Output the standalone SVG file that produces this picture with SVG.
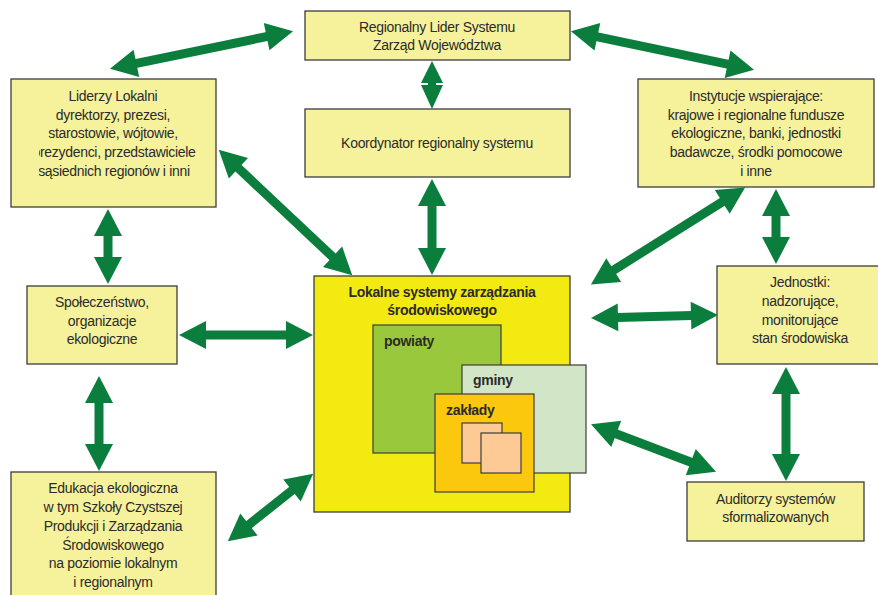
<svg xmlns="http://www.w3.org/2000/svg" width="878" height="595" viewBox="0 0 878 595">
<style>
.box{fill:#f6f29b;stroke:#3c3c3c;stroke-width:1.3}
.t{font-family:"Liberation Sans",Arial,sans-serif;font-size:14px;fill:#2b2b2b;text-anchor:middle;letter-spacing:-0.3px}
.b{font-family:"Liberation Sans",Arial,sans-serif;font-size:14px;font-weight:bold;fill:#2b2b2b;letter-spacing:-0.3px}
.arr{stroke:#0b7e3d;stroke-width:9;fill:none;marker-start:url(#hd);marker-end:url(#hd)}
.in{stroke:#3c3c3c;stroke-width:1.2}
</style>
<defs>
<marker id="hd" markerUnits="userSpaceOnUse" markerWidth="30" markerHeight="30" viewBox="0 -15 28 30" refX="1" refY="0" orient="auto-start-reverse" overflow="visible">
<path d="M0,-14 L27,0 L0,14 Z" fill="#0b7e3d"/>
</marker>
<clipPath id="clipLid"><rect x="39" y="79" width="178" height="130"/></clipPath>
</defs>

<g id="connectors">
<line class="arr" x1="135.4" y1="63.6" x2="267.6" y2="36.4"/>
<line class="arr" x1="596.4" y1="36.6" x2="728.6" y2="64.4"/>
<g fill="#0b7e3d">
<path d="M432,61 L443,83 L421,83 Z"/>
<rect x="428" y="82" width="8" height="4"/>
<path d="M432,109 L443,85 L421,85 Z"/>
</g>
<line class="arr" x1="432" y1="205" x2="432" y2="249"/>
<line class="arr" x1="237.7" y1="167.5" x2="333.3" y2="257.5"/>
<line class="arr" x1="108" y1="235" x2="108" y2="258"/>
<line class="arr" x1="205" y1="335" x2="287" y2="335"/>
<line class="arr" x1="99" y1="402" x2="99" y2="445"/>
<line class="arr" x1="248.2" y1="525.2" x2="292.8" y2="489.8"/>
<line class="arr" x1="612.9" y1="270.6" x2="723.1" y2="201.4"/>
<line class="arr" x1="776" y1="215" x2="776" y2="238"/>
<line class="arr" x1="617" y1="317.4" x2="692" y2="315.6"/>
<line class="arr" x1="786" y1="393" x2="786" y2="455"/>
<line class="arr" x1="615.3" y1="433.5" x2="691.7" y2="462.5"/>
</g>

<g id="regionalny">
<rect class="box" x="305" y="11" width="265" height="49"/>
<text class="t" x="437" y="32">Regionalny Lider Systemu</text>
<text class="t" x="437" y="50">Zarząd Województwa</text>
</g>

<g id="koordynator">
<rect class="box" x="305" y="109" width="265" height="68"/>
<text class="t" x="437" y="148">Koordynator regionalny systemu</text>
</g>

<g id="liderzy">
<rect class="box" x="11" y="79" width="205" height="128"/>
<g clip-path="url(#clipLid)">
<text class="t" x="113" y="101">Liderzy Lokalni</text>
<text class="t" x="113" y="119.5">dyrektorzy, prezesi,</text>
<text class="t" x="113" y="138">starostowie, wójtowie,</text>
<text class="t" x="114" y="157">prezydenci, przedstawiciele</text>
<text class="t" x="114" y="176">sąsiednich regionów i inni</text>
</g>
</g>

<g id="instytucje">
<rect class="box" x="638" y="79" width="236" height="108"/>
<text class="t" x="756" y="101">Instytucje wspierające:</text>
<text class="t" x="756" y="119.5">krajowe i regionalne fundusze</text>
<text class="t" x="756" y="138">ekologiczne, banki, jednostki</text>
<text class="t" x="756" y="157">badawcze, środki pomocowe</text>
<text class="t" x="756" y="176">i inne</text>
</g>

<g id="spoleczenstwo">
<rect class="box" x="27" y="286" width="150" height="78"/>
<text class="t" x="102" y="307">Społeczeństwo,</text>
<text class="t" x="102" y="326">organizacje</text>
<text class="t" x="102" y="344">ekologiczne</text>
</g>

<g id="jednostki">
<rect class="box" x="717" y="266" width="166" height="98"/>
<text class="t" x="800" y="287">Jednostki:</text>
<text class="t" x="800" y="306">nadzorujące,</text>
<text class="t" x="800" y="325">monitorujące</text>
<text class="t" x="800" y="343">stan środowiska</text>
</g>

<g id="edukacja">
<rect class="box" x="11" y="472" width="205" height="130"/>
<text class="t" x="113" y="493">Edukacja ekologiczna</text>
<text class="t" x="113" y="512">w tym Szkoły Czystszej</text>
<text class="t" x="113" y="531">Produkcji i Zarządzania</text>
<text class="t" x="113" y="550">Środowiskowego</text>
<text class="t" x="113" y="568">na poziomie lokalnym</text>
<text class="t" x="113" y="587">i regionalnym</text>
</g>

<g id="auditorzy">
<rect class="box" x="687" y="482" width="177" height="59"/>
<text class="t" x="775.5" y="504">Auditorzy systemów</text>
<text class="t" x="775.5" y="522">sformalizowanych</text>
</g>

<g id="lokalne">
<rect x="314" y="276" width="256" height="236" fill="#f3ea12" stroke="#3c3c3c" stroke-width="1.3"/>
<text class="b" x="442" y="297" text-anchor="middle">Lokalne systemy zarządzania</text>
<text class="b" x="442" y="315" text-anchor="middle">środowiskowego</text>
</g>
<g id="powiaty">
<rect class="in" x="373" y="325" width="128" height="128" fill="#9ac83c"/>
<text class="b" x="384" y="346">powiaty</text>
</g>
<g id="gminy">
<rect class="in" x="462" y="365" width="124" height="108" fill="#d2e5c6"/>
<text class="b" x="473" y="385">gminy</text>
</g>
<g id="zaklady">
<rect class="in" x="435" y="394" width="99" height="98" fill="#fbc80e"/>
<text class="b" x="446" y="415">zakłady</text>
<rect class="in" x="462" y="423" width="40" height="40" fill="#fdca96"/>
<rect class="in" x="481" y="433" width="40" height="40" fill="#fdca96"/>
</g>
</svg>
